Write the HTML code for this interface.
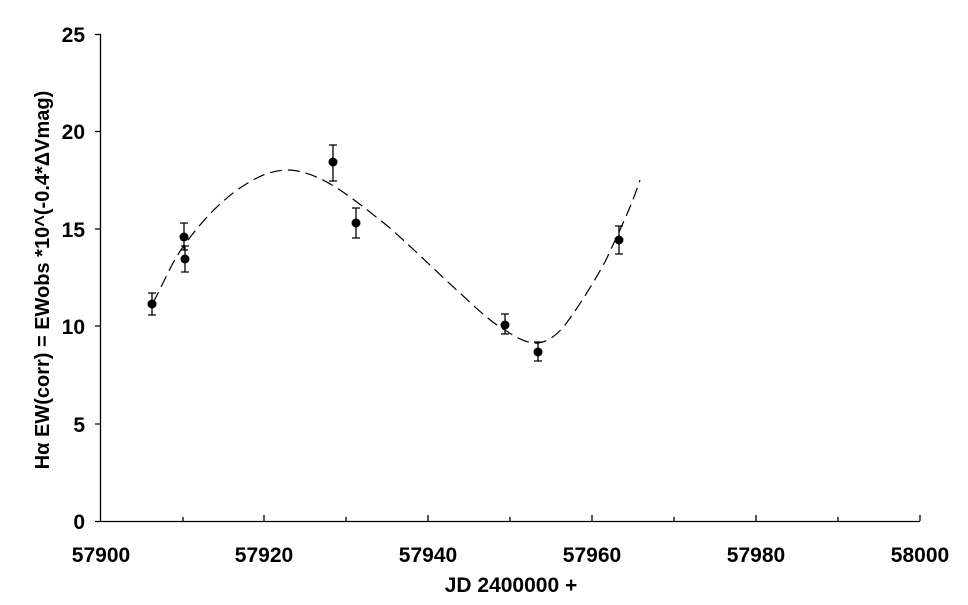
<!DOCTYPE html>
<html><head><style>
body{margin:0;background:#fff;}
svg{display:block;font-family:"Liberation Sans",Arial,sans-serif;font-weight:bold;}
</style></head><body>
<svg width="968" height="605" viewBox="0 0 968 605">
<g stroke="#000" stroke-width="1.3" fill="none">
<path d="M100.5 34V521.5H920"/>
<path d="M95 34.5h6M95 131.5h6M95 229h6M95 326h6M95 424h6M95 521.5h6"/>
<path d="M183 521v-4M264 521v-6M346 521v-4M428 521v-6M510 521v-4M592 521v-6M674 521v-4M756 521v-6M838 521v-4M920 521v-6"/>
</g>
<g font-size="21" text-anchor="end">
<text x="85" y="42">25</text><text x="85" y="139">20</text><text x="85" y="237">15</text>
<text x="85" y="334">10</text><text x="85" y="432">5</text><text x="85" y="529">0</text>
</g>
<g font-size="21" text-anchor="middle">
<text x="101" y="562">57900</text><text x="264" y="562">57920</text><text x="428" y="562">57940</text>
<text x="592" y="562">57960</text><text x="756" y="562">57980</text><text x="920" y="562">58000</text>
<text x="511" y="592">JD 2400000 +</text>
</g>
<text transform="translate(49,280) rotate(-90)" font-size="20" text-anchor="middle">Hα EW(corr) =  EWobs *10^(-0.4*ΔVmag)</text>
<path d="M153 303 C165 280 172 262 183 247 C195 230 215 205 240 188 C258 176 272 170 288 170 C305 170 325 180 340 190 C355 200 370 212 390 228 C420 255 440 275 460 293 C480 312 495 325 505 330 C515 337 528 344 538 343 C548 342 558 334 565 325 C580 305 595 280 605 262 C620 230 632 205 640 180" stroke="#000" stroke-width="1.2" fill="none" stroke-dasharray="12,6"/>
<g stroke="#000" stroke-width="1.3">
<path d="M152 293V315M148 293h8M148 315h8"/>
<path d="M184 223V250M180 223h8M180 250h8"/>
<path d="M185 246V272M181 246h8M181 272h8"/>
<path d="M333 145V181M329 145h8M329 181h8"/>
<path d="M356 208V238M352 208h8M352 238h8"/>
<path d="M505 314V334M501 314h8M501 334h8"/>
<path d="M538 342V361M534 342h8M534 361h8"/>
<path d="M619 226V254M615 226h8M615 254h8"/>
</g>
<g fill="#000">
<circle cx="152" cy="304" r="4.5"/><circle cx="184" cy="237" r="4.5"/><circle cx="185" cy="259" r="4.5"/>
<circle cx="333" cy="162" r="4.5"/><circle cx="356" cy="223" r="4.5"/><circle cx="505" cy="325" r="4.5"/>
<circle cx="538" cy="352" r="4.5"/><circle cx="619" cy="240" r="4.5"/>
</g>
</svg>
</body></html>
